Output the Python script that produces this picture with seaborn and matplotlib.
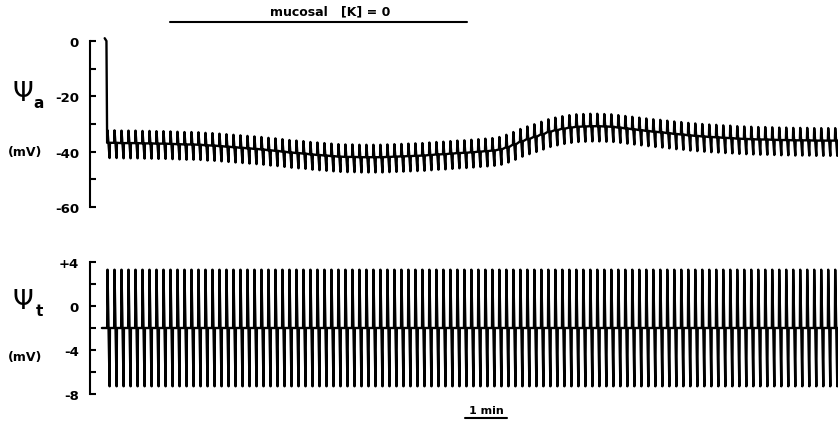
import numpy as np
import pandas as pd
import matplotlib
matplotlib.use("Agg")
import matplotlib.pyplot as plt
import seaborn as sns

sns.set_style("white")
plt.rcParams["font.family"] = ["DejaVu Sans"]
plt.rcParams["font.weight"] = "bold"
plt.rcParams["axes.unicode_minus"] = False
plt.rcParams["text.color"] = "black"
plt.rcParams["axes.edgecolor"] = "black"
plt.rcParams["ytick.color"] = "black"

# current pulses every 10 s (time in s)
pulse_period = 10
first_pulse = 25
t_end = 1069

# apical membrane potential, baseline read at each pulse (mV)
psi_a_base = [
    -36.8, -36.8, -36.9, -36.9, -36.9, -37.0, -37.0, -37.1, -37.1, -37.2,
    -37.3, -37.4, -37.4, -37.5, -37.7, -37.8, -38.0, -38.2, -38.4, -38.6,
    -38.8, -39.0, -39.2, -39.5, -39.7, -40.0, -40.3, -40.5, -40.7, -41.0,
    -41.2, -41.4, -41.6, -41.8, -41.9, -41.9, -42.0, -42.0, -42.0, -42.0,
    -41.9, -41.8, -41.7, -41.6, -41.5, -41.4, -41.2, -41.0, -40.9, -40.7,
    -40.5, -40.4, -40.2, -40.0, -39.8, -39.6, -39.2, -38.4, -37.4, -36.3,
    -35.4, -34.6, -33.7, -32.8, -32.2, -31.7, -31.3, -31.0, -30.9, -30.8,
    -30.8, -30.9, -31.0, -31.3, -31.6, -31.9, -32.2, -32.5, -32.8, -33.0,
    -33.3, -33.6, -33.8, -34.1, -34.3, -34.5, -34.7, -34.8, -35.0, -35.1,
    -35.3, -35.4, -35.5, -35.6, -35.6, -35.7, -35.8, -35.8, -35.9, -35.9,
    -35.9, -36.0, -36.0, -36.0, -36.0,
]
psi_a_up = 4.5      # deflection above baseline
psi_a_down = 5.5    # deflection below baseline
psi_a_lead = [(21, 1.0), (23.5, 0.0)]   # pen comes down from 0 at start

# transepithelial potential (mV)
psi_t_base = -2.0
psi_t_peak = 3.3
psi_t_trough = -7.3
psi_t_lead = [(17, -2.0)]

k0_period = (114, 539)   # mucosal [K] = 0
k0_label_t = 343
scale_bar = (536, 596)   # 1 min

pulse_times = first_pulse + pulse_period * np.arange(len(psi_a_base))


def pulse_trace(lead, times, bases, up, down):
    t = [p[0] for p in lead]
    v = [p[1] for p in lead]
    for tk, b in zip(times, bases):
        t += [tk - 0.5, tk, tk + 3.0, tk + 3.5]
        v += [b, b + up, b - down, b]
    t.append(t_end)
    v.append(bases[-1])
    return pd.DataFrame({"t": t, "v": v})


df_a = pulse_trace(psi_a_lead, pulse_times, psi_a_base, psi_a_up, psi_a_down)
df_t = pulse_trace(psi_t_lead, pulse_times, [psi_t_base] * len(pulse_times),
                   psi_t_peak - psi_t_base, psi_t_base - psi_t_trough)

fig = plt.figure(figsize=(8.38, 4.27), dpi=100)
W, H = 838, 427
ax_a = fig.add_axes([90 / W, 1 - 208 / H, 748 / W, 166 / H])
ax_t = fig.add_axes([90 / W, 1 - 395 / H, 748 / W, 132 / H])

for ax, df in [(ax_a, df_a), (ax_t, df_t)]:
    sns.lineplot(data=df, x="t", y="v", sort=False, estimator=None,
                 color="black", lw=1.7, ax=ax, clip_on=False)
    sns.despine(ax=ax, bottom=True)
    ax.set_xlim(0, t_end)
    ax.set_xticks([])
    ax.set_xlabel("")
    ax.set_ylabel("")
    ax.spines["left"].set_linewidth(1.5)
    ax.tick_params(axis="y", which="both", left=True, direction="in", length=4.5,
                   width=1.5, pad=8, labelsize=9.5, colors="black")

ax_a.set_ylim(-60, 0)
ax_a.set_yticks([0, -20, -40, -60])
ax_a.set_yticklabels(["0", "-20", "-40", "-60"])
ax_a.set_yticks([-10, -30, -50], minor=True)

ax_t.set_ylim(-8, 4)
ax_t.set_yticks([4, 0, -4, -8])
ax_t.set_yticklabels(["+4", "0", "-4", "-8"])
ax_t.set_yticks([2, -2, -6], minor=True)

# axis labels: psi with subscript, then units
for sub, y_psi, y_unit in [("a", 94, 153), ("t", 302, 358)]:
    fig.text(23 / W, 1 - y_psi / H, "Ψ", fontsize=19, ha="center",
             va="center", fontweight="normal")
    fig.text(39 / W, 1 - (y_psi + 10) / H, sub, fontsize=11, ha="center", va="center")
    fig.text(25 / W, 1 - y_unit / H, "(mV)", fontsize=9, ha="center", va="center")

# treatment bar
tr = ax_a.get_xaxis_transform()
ax_a.plot(k0_period, [1.114, 1.114], color="black", lw=1.5, transform=tr, clip_on=False)
ax_a.text(k0_label_t, 1.18, "mucosal   [K] = 0", fontsize=9,
          ha="center", va="center", transform=tr)

# time scale bar
tb = ax_t.get_xaxis_transform()
ax_t.plot(scale_bar, [-0.18, -0.18], color="black", lw=1.5, transform=tb, clip_on=False)
ax_t.text(sum(scale_bar) / 2, -0.125, "1 min", fontsize=8,
          ha="center", va="center", transform=tb)

fig.savefig("out.png", dpi=100)
